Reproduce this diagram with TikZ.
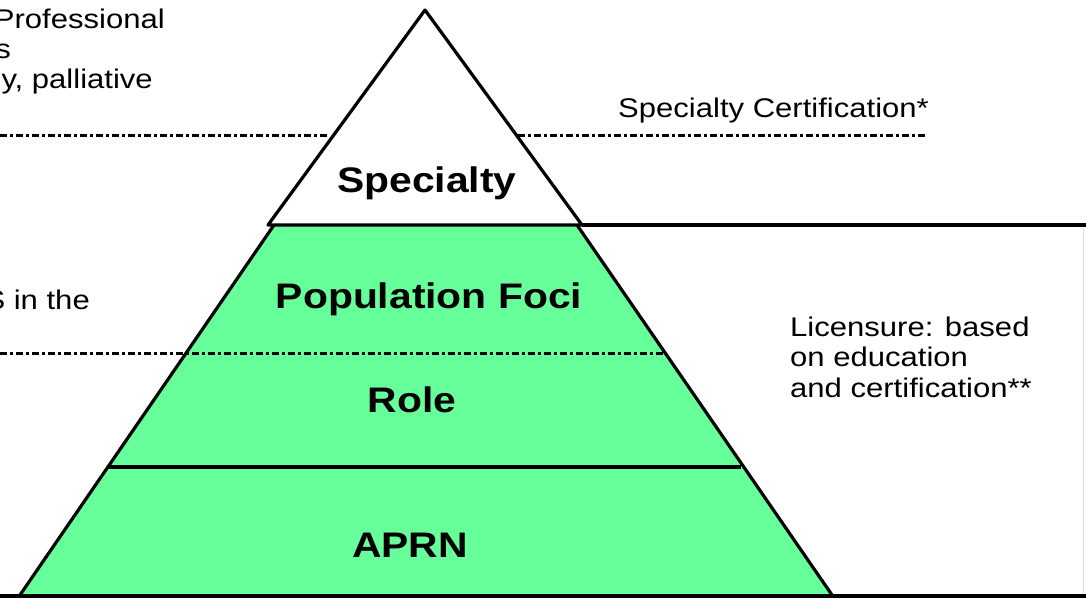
\documentclass[tikz,border=0pt]{standalone}
\usepackage{fontspec}
\setmainfont{Liberation Sans}
\definecolor{pgreen}{RGB}{102,255,153}
\newcommand{\stx}[1]{\scalebox{1.15}[1]{#1}}
\tikzset{
  edge/.style={line width=3.2pt, black, line join=round},
  dashline/.style={line width=3pt, black, dash pattern=on 7pt off 3pt on 3pt off 3pt},
  reg/.style={inner sep=0pt, font=\fontsize{27pt}{30pt}\selectfont},
  lvl/.style={inner sep=0pt, font=\fontsize{35.5pt}{40pt}\selectfont\bfseries},
}
\begin{document}
\begin{tikzpicture}[x=1pt,y=-1pt]
\useasboundingbox (0,0) rectangle (1086,598);
\clip (0,0) rectangle (1086,598);
% green trapezoid
\fill[pgreen] (274,225) -- (577,225) -- (832,595) -- (20,595) -- cycle;
\draw[edge] (274,225) -- (20,595);
\draw[edge] (577,225) -- (832,595);
% white triangle
\draw[edge, fill=white] (425,10) -- (582,225) -- (268,225) -- cycle;
% horizontal lines
\draw[edge] (582,225) -- (1086,225);
\draw[edge] (0,596) -- (1086,596);
\draw[edge] (109,467) -- (741,467);
\draw[gray!25, line width=1pt] (1083,228) -- (1083,594);
% dashed lines
\draw[dashline] (0,135) -- (330,135);
\draw[dashline] (518,135) -- (925,135);
\draw[dashline] (0,353) -- (665,353);
% level labels
\node[lvl, anchor=base] (spec) at (427,192) {\stx{Specialty}};
\node[lvl, anchor=base] (pop) at (429,308) {\stx{Population Foci}};
\node[lvl, anchor=base] (role) at (412,412) {\stx{Role}};
\node[lvl, anchor=base] (aprn) at (410,557) {\stx{APRN}};
% side texts
\node[reg, anchor=base west] (cert) at (618,117) {\stx{Specialty Certification*}};
\node[reg, anchor=base west] (lic1) at (790,336) {\stx{Licensure: based}};
\node[reg, anchor=base west] (lic2) at (790,366) {\stx{on education}};
\node[reg, anchor=base west] (lic3) at (790,397) {\stx{and certification**}};
\node[reg, anchor=base east] (l1) at (165,28) {\stx{Professional}};
\node[reg, anchor=base east] (l2) at (11,58) {\stx{s}};
\node[reg, anchor=base east] (l3) at (153,88) {\stx{y, palliative}};
\node[reg, anchor=base east] (l4) at (90,309) {\stx{S in the}};
\end{tikzpicture}
\end{document}
